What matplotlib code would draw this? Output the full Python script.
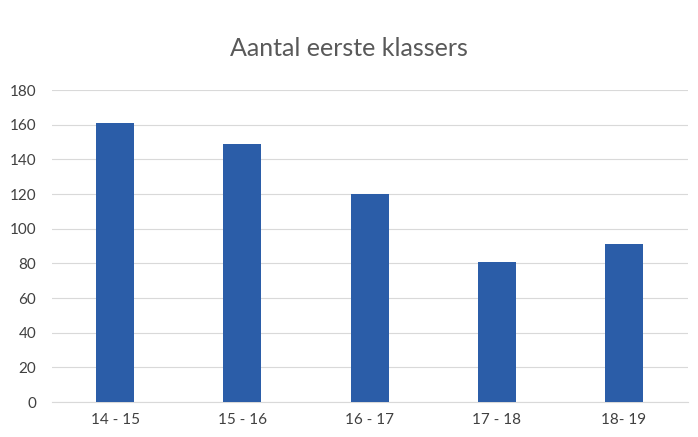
import matplotlib.pyplot as plt
import numpy as np

plt.rcParams.update({
    "font.family": ["Lato", "DejaVu Sans"],
    "font.size": 10,
})

schooljaren = ["14 - 15", "15 - 16", "16 - 17", "17 - 18", "18- 19"]
aantal = [161, 149, 120, 81, 91]
yticks = [0, 20, 40, 60, 80, 100, 120, 140, 160, 180]

BAR = "#2B5DA8"
TEXT = "#404040"
GRID = "#D9D9D9"

fig = plt.figure(figsize=(6.98, 4.37), dpi=100)
ax = fig.add_axes([0.074, 0.080, 0.911, 0.714])

x = np.arange(len(schooljaren))
ax.bar(x, aantal, width=0.3, color=BAR, zorder=3)

ax.set_xlim(-0.5, len(schooljaren) - 0.5)
ax.set_ylim(0, 180)
ax.set_yticks(yticks)
ax.set_xticks(x)
ax.set_xticklabels(schooljaren)
ax.tick_params(axis="both", length=0, colors=TEXT, labelsize=11)
ax.tick_params(axis="y", pad=11)
ax.tick_params(axis="x", pad=8)

ax.grid(axis="y", color=GRID, linewidth=0.8, zorder=0)
for side in ["top", "right", "left"]:
    ax.spines[side].set_visible(False)
ax.spines["bottom"].set_color(GRID)

fig.text(0.5, 0.89, "Aantal eerste klassers", ha="center", va="center",
         fontsize=18, color="#595959")

fig.savefig("out.png", dpi=100)
